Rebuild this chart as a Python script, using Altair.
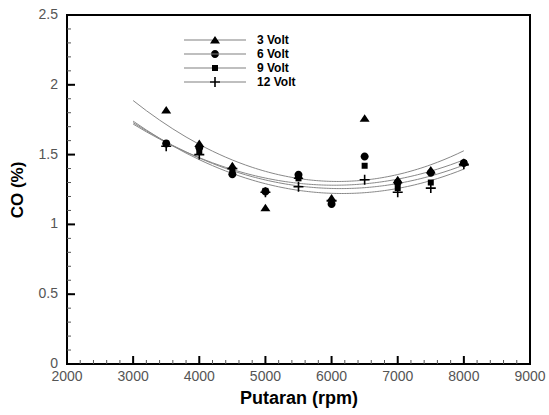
import altair as alt
import pandas as pd

# ---- data ----
rpm = [3500, 4000, 4500, 5000, 5500, 6000, 6500, 7000, 7500, 8000]
co_3v = [1.82, 1.58, 1.42, 1.12, 1.35, 1.19, 1.76, 1.32, 1.39, 1.446]
co_6v = [1.58, 1.55, 1.36, 1.236, 1.355, 1.147, 1.486, 1.30, 1.37, 1.44]
co_9v = [1.58, 1.52, 1.38, 1.24, 1.33, 1.16, 1.42, 1.26, 1.30, 1.44]
co_12v = [1.56, 1.50, 1.40, 1.23, 1.27, 1.17, 1.32, 1.23, 1.26, 1.43]
series_names = ["3 Volt", "6 Volt", "9 Volt", "12 Volt"]

x_major = [2000, 3000, 4000, 5000, 6000, 7000, 8000, 9000]
x_minor = list(range(2000, 9001, 200))
y_major = [0, 0.5, 1, 1.5, 2, 2.5]
y_minor = [round(i * 0.1, 1) for i in range(26)]
x_labels = ["2000", "3000", "4000", "5000", "6000", "7000", "8000", "9000"]
y_labels = ["0", "0.5", "1", "1.5", "2", "2.5"]
x_title = "Putaran (rpm)"
y_title = "CO (%)"

rows = []
for name, vals in zip(series_names, [co_3v, co_6v, co_9v, co_12v]):
    for r, v in zip(rpm, vals):
        rows.append({"rpm": r, "co": v, "series": name})
df = pd.DataFrame(rows)

# marker shapes (custom paths, scaled by sqrt(size)/2)
tri = "M0,-0.8L1,0.7L-1,0.7Z"
circ = "M-0.8,0A0.8,0.8 0 1,0 0.8,0A0.8,0.8 0 1,0 -0.8,0Z"
sq = "M-0.6,-0.6L0.6,-0.6L0.6,0.6L-0.6,0.6Z"
plus = ("M-1,-0.16L-0.16,-0.16L-0.16,-1L0.16,-1L0.16,-0.16L1,-0.16L1,0.16"
        "L0.16,0.16L0.16,1L-0.16,1L-0.16,0.16L-1,0.16Z")
marker_paths = [tri, circ, sq, plus]
line_seg = "M-6.2,-0.06L6.2,-0.06L6.2,0.06L-6.2,0.06Z"
legend_paths = [line_seg + p for p in marker_paths]

FONT = "Liberation Sans"
W, H = 463, 349

xscale = alt.Scale(domain=[2000, 9000], nice=False, zero=False)
yscale = alt.Scale(domain=[0, 2.5], nice=False)

base = alt.Chart(df)

lines = base.transform_regression(
    "rpm", "co", groupby=["series"], method="poly", order=2, extent=[3000, 8000]
).mark_line(color="#888888", strokeWidth=1).encode(
    x=alt.X("rpm:Q", scale=xscale, axis=None),
    y=alt.Y("co:Q", scale=yscale, axis=None),
    detail="series:N",
)

points = base.mark_point(filled=True, color="black", opacity=1, size=100).encode(
    x=alt.X("rpm:Q", scale=xscale, axis=None),
    y=alt.Y("co:Q", scale=yscale, axis=None),
    shape=alt.Shape("series:N", scale=alt.Scale(domain=series_names, range=marker_paths),
                    legend=None),
)

# inward tick marks along the bottom and left frame, placed by the scales
xminor_ticks = alt.Chart(pd.DataFrame({"rpm": x_minor})).mark_rule(
    color="#555555", strokeWidth=1).encode(
    x=alt.X("rpm:Q", scale=xscale, axis=None), y=alt.value(H), y2=alt.value(H - 4))
xmajor_ticks = alt.Chart(pd.DataFrame({"rpm": x_major})).mark_rule(
    color="black", strokeWidth=2).encode(
    x=alt.X("rpm:Q", scale=xscale, axis=None), y=alt.value(H), y2=alt.value(H - 8))
yminor_ticks = alt.Chart(pd.DataFrame({"co": y_minor})).mark_rule(
    color="#555555", strokeWidth=1).encode(
    y=alt.Y("co:Q", scale=yscale, axis=None), x=alt.value(0), x2=alt.value(4))
ymajor_ticks = alt.Chart(pd.DataFrame({"co": y_major})).mark_rule(
    color="black", strokeWidth=2).encode(
    y=alt.Y("co:Q", scale=yscale, axis=None), x=alt.value(0), x2=alt.value(8))

# tick labels, placed by the scales
xlab = alt.Chart(pd.DataFrame({"rpm": x_major, "lab": x_labels})).mark_text(
    font=FONT, fontSize=14, color="#555555", align="center", baseline="top").encode(
    x=alt.X("rpm:Q", scale=xscale, axis=None), y=alt.value(H + 6), text="lab:N")
ylab = alt.Chart(pd.DataFrame({"co": y_major, "lab": y_labels})).mark_text(
    font=FONT, fontSize=14, color="#555555", align="right", baseline="middle").encode(
    y=alt.Y("co:Q", scale=yscale, axis=None), x=alt.value(-9), text="lab:N")

# axis titles
xtit = alt.Chart(pd.DataFrame({"t": [x_title]})).mark_text(
    font=FONT, fontSize=18, fontWeight="bold", color="black", align="center",
    baseline="alphabetic").encode(x=alt.value(232), y=alt.value(H + 40), text="t:N")
ytit = alt.Chart(pd.DataFrame({"t": [y_title]})).mark_text(
    font=FONT, fontSize=17, fontWeight="bold", color="black", align="center",
    baseline="alphabetic", angle=270).encode(x=alt.value(-44), y=alt.value(175),
                                             text="t:N")

legend_layer = base.transform_filter("false").mark_point(
    filled=True, color="black", size=100
).encode(
    shape=alt.Shape("series:N", scale=alt.Scale(domain=series_names, range=legend_paths),
                    legend=alt.Legend(
                        title=None, orient="none", legendX=142, legendY=19,
                        symbolSize=100, symbolFillColor="black",
                        symbolStrokeWidth=0, symbolOpacity=1,
                        labelOffset=36, rowPadding=2, padding=0,
                        labelFont=FONT, labelFontSize=12, labelFontWeight="bold",
                        labelColor="black")),
)

chart = alt.layer(
    xminor_ticks, xmajor_ticks, yminor_ticks, ymajor_ticks, lines, points,
    xlab, ylab, xtit, ytit, legend_layer
).resolve_scale(
    shape="independent"
).properties(
    width=W, height=H, autosize="none",
    padding={"left": 67, "top": 15, "right": 19, "bottom": 51},
).configure_view(stroke="black", strokeWidth=2)

chart.save("out.html", embed_options={"renderer": "svg", "actions": False})
